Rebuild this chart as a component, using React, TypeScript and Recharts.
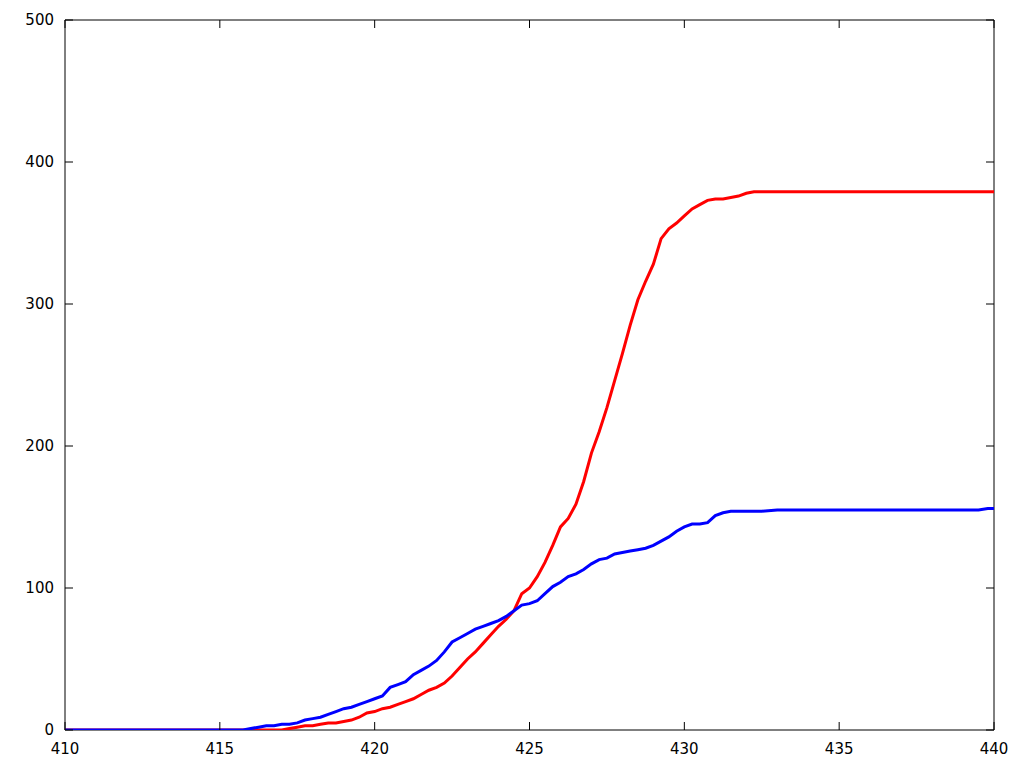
import { LineChart, Line, XAxis, YAxis, ReferenceArea } from "recharts";

const xValues = [
  410, 415, 415.75, 416, 416.25, 416.5, 416.75, 417, 417.25, 417.5, 417.75,
  418, 418.25, 418.5, 418.75, 419, 419.25, 419.5, 419.75, 420, 420.25, 420.5,
  420.75, 421, 421.25, 421.5, 421.75, 422, 422.25, 422.5, 422.75, 423, 423.25,
  423.5, 423.75, 424, 424.25, 424.5, 424.75, 425, 425.25, 425.5, 425.75, 426,
  426.25, 426.5, 426.75, 427, 427.25, 427.5, 427.75, 428, 428.25, 428.5, 428.75,
  429, 429.25, 429.5, 429.75, 430, 430.25, 430.5, 430.75, 431, 431.25, 431.5,
  431.75, 432, 432.25, 432.5, 433, 435, 439.5, 439.8, 440,
];

const redValues = [
  0, 0, 0, 0, 0, 0, 0, 0, 1, 2, 3,
  3, 4, 5, 5, 6, 7, 9, 12, 13, 15, 16,
  18, 20, 22, 25, 28, 30, 33, 38, 44, 50, 55,
  61, 67, 73, 78, 84, 96, 100, 108, 118, 130, 143,
  149, 159, 175, 195, 210, 227, 246, 265, 285, 303, 316,
  328, 346, 353, 357, 362, 367, 370, 373, 374, 374, 375,
  376, 378, 379, 379, 379, 379, 379, 379, 379,
];

const blueValues = [
  0, 0, 0, 1, 2, 3, 3, 4, 4, 5, 7,
  8, 9, 11, 13, 15, 16, 18, 20, 22, 24, 30,
  32, 34, 39, 42, 45, 49, 55, 62, 65, 68, 71,
  73, 75, 77, 80, 84, 88, 89, 91, 96, 101, 104,
  108, 110, 113, 117, 120, 121, 124, 125, 126, 127, 128,
  130, 133, 136, 140, 143, 145, 145, 146, 151, 153, 154,
  154, 154, 154, 154, 155, 155, 155, 156, 156,
];

const xTicks = [410, 415, 420, 425, 430, 435, 440];
const yTicks = [0, 100, 200, 300, 400, 500];

const data = xValues.map((x, i) => ({ x, red: redValues[i], blue: blueValues[i] }));

// plot box edges (gnuplot style frame with inward ticks on all four sides)
const W = 1024;
const H = 768;
const M = { top: 20, right: 30, bottom: 0, left: 15 };
const TICK = 8;
const X_GAP = 13;
const Y_GAP = 11;
const font = { fontFamily: "DejaVu Sans", fontSize: 15, fill: "#000" };

function BottomTick(props: any) {
  const { x, y, payload } = props;
  const axisY = y - X_GAP;
  return (
    <g>
      <line x1={x} x2={x} y1={axisY} y2={axisY - TICK} stroke="#000" />
      <line x1={x} x2={x} y1={M.top} y2={M.top + TICK} stroke="#000" />
      <text x={x} y={y} dy="0.71em" textAnchor="middle" {...font}>
        {payload.value}
      </text>
    </g>
  );
}

function LeftTick(props: any) {
  const { x, y, payload } = props;
  const axisX = x + Y_GAP;
  const rightX = W - M.right;
  return (
    <g>
      <line x1={axisX} x2={axisX + TICK} y1={y} y2={y} stroke="#000" />
      <line x1={rightX - TICK} x2={rightX} y1={y} y2={y} stroke="#000" />
      <text x={x} y={y} dy="0.355em" textAnchor="end" {...font}>
        {payload.value}
      </text>
    </g>
  );
}

export default function App() {
  return (
    <div style={{ width: W, height: H }}>
      <style>{`body { margin: 0; }`}</style>
      <LineChart width={W} height={H} data={data} margin={M}>
        <XAxis
          dataKey="x"
          type="number"
          domain={[410, 440]}
          ticks={xTicks}
          allowDataOverflow
          height={38}
          axisLine={false}
          tickLine={false}
          tickSize={0}
          tickMargin={X_GAP}
          tick={<BottomTick />}
        />
        <YAxis
          type="number"
          domain={[0, 500]}
          ticks={yTicks}
          allowDataOverflow
          width={50}
          axisLine={false}
          tickLine={false}
          tickSize={0}
          tickMargin={Y_GAP}
          tick={<LeftTick />}
        />
        <ReferenceArea x1={410} x2={440} y1={0} y2={500} fill="none" stroke="#000" strokeWidth={1} />
        <Line
          dataKey="red"
          type="linear"
          stroke="#ff0000"
          strokeWidth={3}
          dot={false}
          isAnimationActive={false}
        />
        <Line
          dataKey="blue"
          type="linear"
          stroke="#0000ff"
          strokeWidth={3}
          dot={false}
          isAnimationActive={false}
        />
      </LineChart>
    </div>
  );
}
